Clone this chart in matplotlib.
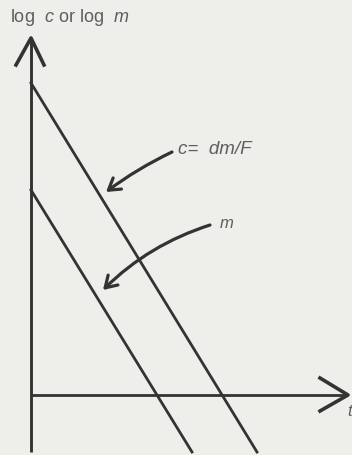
import matplotlib.pyplot as plt

# log concentration and log mass against time, two parallel straight lines
t_c = [0.0, 2.26]
log_c = [3.13, -0.56]
t_m = [0.0, 1.61]
log_m = [2.06, -0.56]

ink = '#333333'
text_col = '#5e5e5e'

plt.rcParams['mathtext.fontset'] = 'custom'
plt.rcParams['mathtext.rm'] = 'Liberation Sans'
plt.rcParams['mathtext.it'] = 'Liberation Sans:italic'
plt.rcParams['font.family'] = 'Liberation Sans'

fig = plt.figure(figsize=(3.52, 4.55), dpi=100)
fig.patch.set_facecolor('#eeeeeb')
ax = fig.add_axes([0, 0, 1, 1])
ax.set_facecolor('#eeeeeb')
ax.set_xlim(-0.31, 3.21)
ax.set_ylim(-0.59, 3.96)
ax.axis('off')

# axes with open arrow heads
ax.plot([0, 0], [-0.56, 3.57], color=ink, lw=2.1, solid_capstyle='butt')
ax.plot([-0.15, 0, 0.13], [3.31, 3.58, 3.31], color=ink, lw=2.6)
ax.plot([0, 3.15], [0.01, 0.01], color=ink, lw=2.0, solid_capstyle='butt')
ax.plot([2.89, 3.17, 2.89], [0.18, 0.01, -0.15], color=ink, lw=2.6)

# the two lines
ax.plot(t_c, log_c, color=ink, lw=2.0)
ax.plot(t_m, log_m, color=ink, lw=2.0)

ax.text(-0.21, 3.79, r'log  $c$ or log  $m$', fontsize=13,
        color=text_col, va='center', ha='left')
ax.text(3.16, -0.16, 't', fontsize=12, style='italic', color=text_col,
        va='center', ha='left')

arrow = dict(arrowstyle='->,head_length=0.8,head_width=0.5', color=ink, lw=2.3,
             shrinkA=0, shrinkB=0)
ax.annotate('', xy=(0.75, 2.04), xytext=(1.41, 2.44),
            arrowprops=dict(arrow, connectionstyle='arc3,rad=0.05'))
ax.text(1.47, 2.46, 'c=  dm/F', fontsize=13.5, style='italic', color=text_col,
        va='center', ha='left')

ax.annotate('', xy=(0.72, 1.06), xytext=(1.79, 1.71),
            arrowprops=dict(arrow, connectionstyle='arc3,rad=0.12'))
ax.text(1.89, 1.72, 'm', fontsize=12, style='italic', color=text_col,
        va='center', ha='left')

fig.savefig('out.png', dpi=100, facecolor=fig.get_facecolor())
